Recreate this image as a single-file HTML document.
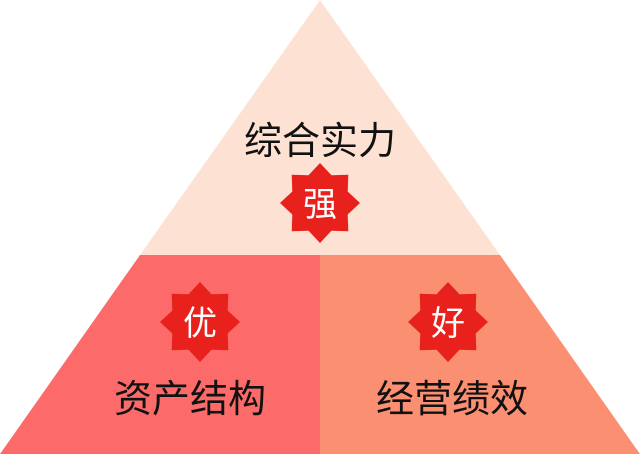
<!DOCTYPE html>
<html><head><meta charset="utf-8"><style>
html,body{margin:0;padding:0;background:#fff;}
svg text{font-family:"Liberation Sans","Noto Sans CJK SC",sans-serif;}
</style></head><body>
<svg width="640" height="454" viewBox="0 0 640 454" xmlns="http://www.w3.org/2000/svg">
<defs>
<polygon id="star" points="0,-40 11.5,-27.7 28.3,-28.3 27.7,-11.5 40,0 27.7,11.5 28.3,28.3 11.5,27.7 0,40 -11.5,27.7 -28.3,28.3 -27.7,11.5 -40,0 -27.7,-11.5 -28.3,-28.3 -11.5,-27.7" fill="#e8211c"/>
</defs>
<polygon points="320,0 500,255 140,255" fill="#fde2d3"/>
<polygon points="140,255 320,255 320,454 0,454" fill="#fd6a6a"/>
<polygon points="320,255 500,255 640,454 320,454" fill="#fb8f72"/>
<text x="320" y="154" font-size="38" text-anchor="middle" fill="#111">综合实力</text>
<use href="#star" x="320" y="203"/>
<text x="320" y="216" font-size="34" text-anchor="middle" fill="#fff">强</text>
<use href="#star" x="200" y="322"/>
<text x="200" y="335" font-size="34" text-anchor="middle" fill="#fff">优</text>
<use href="#star" x="448" y="322"/>
<text x="448" y="335" font-size="34" text-anchor="middle" fill="#fff">好</text>
<text x="190" y="412" font-size="38" text-anchor="middle" fill="#111">资产结构</text>
<text x="452" y="412" font-size="38" text-anchor="middle" fill="#111">经营绩效</text>
</svg>
</body></html>
